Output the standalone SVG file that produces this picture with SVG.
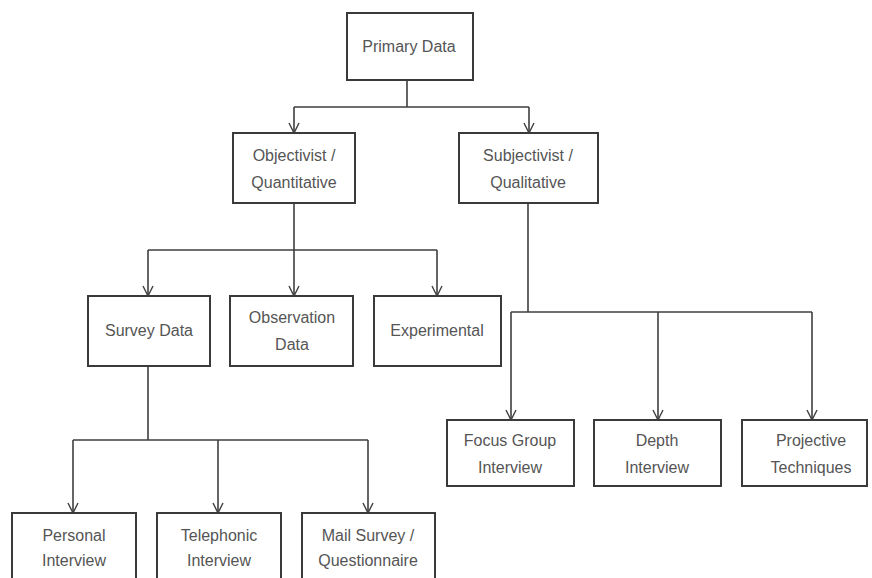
<svg xmlns="http://www.w3.org/2000/svg" width="872" height="578" viewBox="0 0 872 578">
<defs>
<style>
.box{fill:#fff;stroke:#3a3a3a;stroke-width:2}
.t{font-family:"Liberation Sans",Arial,sans-serif;font-size:16px;fill:#555;text-anchor:middle}
.c{fill:none;stroke:#3f3f3f;stroke-width:1.6}
.a{marker-end:url(#arr)}
</style>
<marker id="arr" viewBox="-11 -6 12 12" markerWidth="12" markerHeight="12" refX="0" refY="0" orient="auto" markerUnits="userSpaceOnUse">
<path d="M-10,-5 L0,0 L-10,5" fill="none" stroke="#3f3f3f" stroke-width="1.4"/>
</marker>
</defs>
<rect width="872" height="578" fill="#fff"/>
<g id="connectors">
<path class="c" d="M407,80 V107 M294,107 H529"/>
<path class="c a" d="M294,107 V133"/>
<path class="c a" d="M529,107 V133"/>
<path class="c" d="M294,203 V250 M148,250 H437"/>
<path class="c a" d="M148,250 V296"/>
<path class="c a" d="M294,250 V296"/>
<path class="c a" d="M437,250 V296"/>
<path class="c" d="M528,203 V312 M511,312 H812"/>
<path class="c a" d="M511,312 V420"/>
<path class="c a" d="M658,312 V420"/>
<path class="c a" d="M812,312 V420"/>
<path class="c" d="M148,366 V440 M73,440 H368"/>
<path class="c a" d="M73,440 V513"/>
<path class="c a" d="M218,440 V513"/>
<path class="c a" d="M368,440 V513"/>
</g>
<g id="primary"><rect class="box" x="347" y="13" width="126" height="67"/><text class="t" x="409" y="52">Primary Data</text></g>
<g id="objectivist"><rect class="box" x="233" y="133" width="122" height="70"/><text class="t" x="294" y="161">Objectivist /</text><text class="t" x="294" y="188">Quantitative</text></g>
<g id="subjectivist"><rect class="box" x="459" y="133" width="139" height="70"/><text class="t" x="528" y="161">Subjectivist /</text><text class="t" x="528" y="188">Qualitative</text></g>
<g id="survey"><rect class="box" x="88" y="296" width="122" height="70"/><text class="t" x="149" y="336">Survey Data</text></g>
<g id="observation"><rect class="box" x="230" y="296" width="123" height="70"/><text class="t" x="292" y="323">Observation</text><text class="t" x="292" y="350">Data</text></g>
<g id="experimental"><rect class="box" x="374" y="296" width="127" height="70"/><text class="t" x="437" y="336">Experimental</text></g>
<g id="focus"><rect class="box" x="447" y="420" width="127" height="66"/><text class="t" x="510" y="446">Focus Group</text><text class="t" x="510" y="473">Interview</text></g>
<g id="depth"><rect class="box" x="594" y="420" width="127" height="66"/><text class="t" x="657" y="446">Depth</text><text class="t" x="657" y="473">Interview</text></g>
<g id="projective"><rect class="box" x="742" y="420" width="125" height="66"/><text class="t" x="811" y="446">Projective</text><text class="t" x="811" y="473">Techniques</text></g>
<g id="personal"><rect class="box" x="12" y="513" width="124" height="80"/><text class="t" x="74" y="541">Personal</text><text class="t" x="74" y="566">Interview</text></g>
<g id="telephonic"><rect class="box" x="157" y="513" width="124" height="80"/><text class="t" x="219" y="541">Telephonic</text><text class="t" x="219" y="566">Interview</text></g>
<g id="mail"><rect class="box" x="302" y="513" width="133" height="80"/><text class="t" x="368" y="541">Mail Survey /</text><text class="t" x="368" y="566">Questionnaire</text></g>
</svg>
